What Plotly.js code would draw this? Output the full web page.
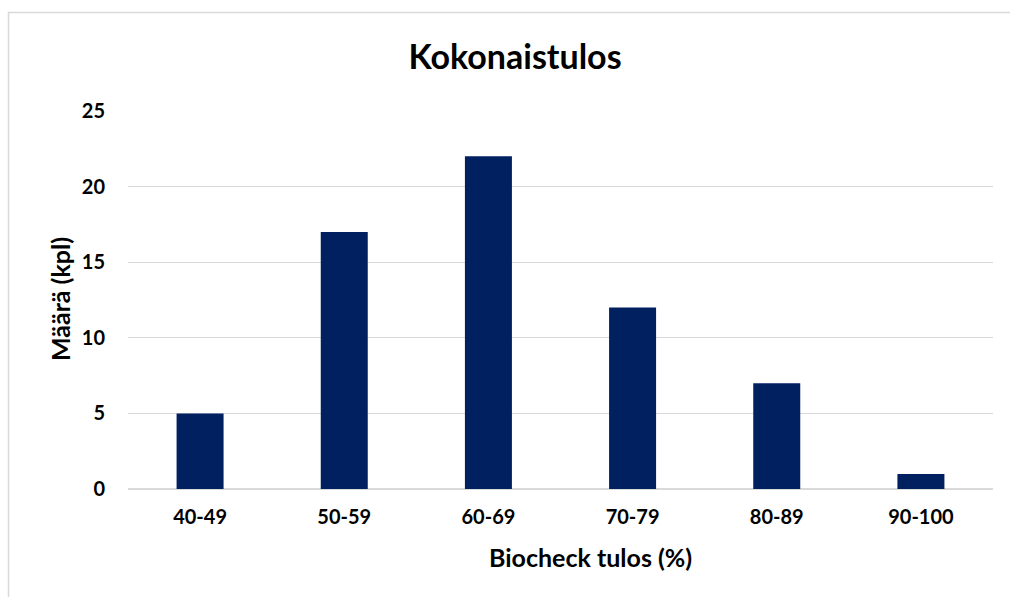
<!DOCTYPE html>
<html>
<head>
<meta charset="utf-8">
<script src="https://cdn.plot.ly/plotly-3.0.1.min.js"></script>
<style>
html,body{margin:0;padding:0;background:#fff;}
#chart{width:1010px;height:597px;}
</style>
</head>
<body>
<div id="chart"></div>
<script>
const categories = ["40-49", "50-59", "60-69", "70-79", "80-89", "90-100"];
const counts = [5, 17, 22, 12, 7, 1];
const yTicks = [0, 5, 10, 15, 20, 25];

const FONT = "Lato, 'Open Sans', sans-serif";
const L = 128, R = 17, T = 111, B = 108, W = 1010, H = 597;
const pw = W - L - R, ph = H - T - B;
const px = v => (v - L) / pw;          // pixel x -> paper x
const py = v => (H - B - v) / ph;      // pixel y -> paper y

const trace = {
  type: "bar",
  x: categories,
  y: counts,
  marker: {color: "#002060"},
  hoverinfo: "x+y"
};

const layout = {
  width: W, height: H,
  margin: {l: L, r: R, t: T, b: B, pad: 0},
  paper_bgcolor: "#ffffff",
  plot_bgcolor: "#ffffff",
  bargap: 0.674,
  showlegend: false,
  font: {family: FONT, color: "#000000"},
  title: {
    text: "<b>Kokonaistulos</b>",
    font: {family: FONT, size: 34, color: "#000000"},
    x: 515 / W, xanchor: "center",
    y: 1 - 57 / H, yanchor: "middle"
  },
  xaxis: {
    type: "category",
    showgrid: false,
    showline: false,
    zeroline: false,
    ticks: "",
    ticklabelstandoff: 14,
    tickfont: {family: FONT, size: 20, color: "#000000", weight: "bold"}
  },
  yaxis: {
    range: [0, 25],
    tickvals: yTicks,
    ticktext: yTicks.map(String),
    showgrid: true,
    gridcolor: "#d9d9d9",
    gridwidth: 1,
    zeroline: true,
    zerolinecolor: "#d9d9d9",
    zerolinewidth: 1.5,
    showline: false,
    ticks: "",
    ticklabelstandoff: 22,
    tickfont: {family: FONT, size: 20, color: "#000000", weight: "bold"}
  },
  annotations: [
    {
      text: "<b>Biocheck tulos (%)</b>",
      xref: "paper", yref: "paper",
      x: px(590), y: py(557), xanchor: "center", yanchor: "middle",
      showarrow: false,
      font: {family: FONT, size: 25, color: "#000000"}
    },
    {
      text: "<b>Määrä (kpl)</b>",
      xref: "paper", yref: "paper",
      x: px(60), y: py(299), xanchor: "center", yanchor: "middle",
      textangle: -90,
      showarrow: false,
      font: {family: FONT, size: 25, color: "#000000"}
    }
  ],
  shapes: [{
    type: "rect",
    xref: "paper", yref: "paper",
    x0: px(8.5), x1: px(W + 10),
    y0: py(H + 10), y1: py(12.5),
    line: {color: "#d9d9d9", width: 1.5},
    fillcolor: "rgba(0,0,0,0)",
    layer: "below"
  }]
};

Plotly.newPlot("chart", [trace], layout, {displayModeBar: false, staticPlot: true});
</script>
</body>
</html>
